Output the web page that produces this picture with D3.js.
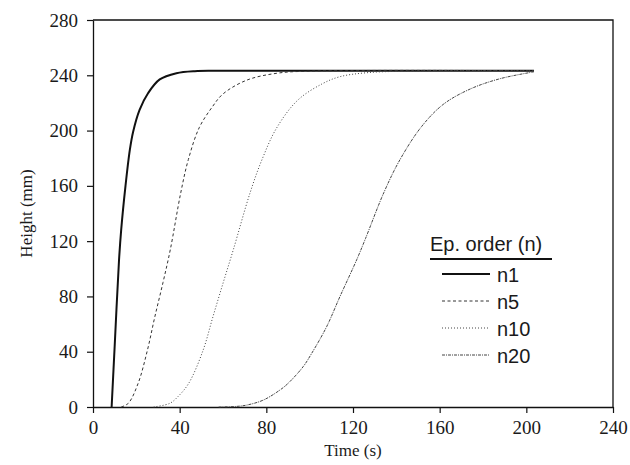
<!DOCTYPE html>
<html>
<head>
<meta charset="utf-8">
<script src="https://cdn.jsdelivr.net/npm/d3@7"></script>
<style>
  html, body { margin: 0; padding: 0; background: #fff; }
  svg { display: block; }
  svg .tick text { font-family: "Liberation Serif", "DejaVu Serif", serif !important; }
</style>
</head>
<body>
<svg id="chart" width="630" height="465"></svg>
<script>
// Height (mm) versus time (s) for different Ep. orders
const seriesNames = ["n1", "n5", "n10", "n20"];

const n1 = [[8.6,0],[10,44],[12,106],[13,128],[15,160],[17,186],[18.5,199],[21.5,215],
  [25.4,227],[30.8,237],[38.5,241.5],[47,243],[60,243.2],[203.5,243.3]];

const n5 = [[13,0],[16.3,2.7],[20.8,17],[25.1,41],[28.5,65],[32.3,90],[35.7,114],
  [40.5,155],[44,179],[49,202],[55,217],[60,226.5],[71,236.5],[85,241.5],[100,243],[203.5,243.3]];

const n10 = [[28,0],[35.5,2.7],[39.2,7.5],[44.2,17.2],[50.8,41],[55.3,65],[60.1,90],
  [64.8,114],[72.5,155],[78,179],[84.8,202],[94.5,222],[106,234],[114,239],
  [126,241.8],[145,243],[203.5,243.3]];

const n20 = [[58,0],[66,0.4],[71,1.4],[78.6,5],[86.3,12.3],[90.1,17.2],[97,29.2],
  [101,39],[107.8,58],[114,80],[121.7,106.5],[125.8,122],[134.2,155],[141.7,179],
  [151.7,203],[161.7,219],[174,230],[187.8,237.5],[203.5,242.5]];

const xTicks = [0, 40, 80, 120, 160, 200, 240];
const yTicks = [0, 40, 80, 120, 160, 200, 240, 280];

const xTitle = "Time (s)";
const yTitle = "Height (mm)";
const legendTitle = "Ep. order (n)";

const seriesData = [n1, n5, n10, n20];
const seriesStyle = [
  { width: 2.0, dash: null,      color: "#111" },
  { width: 1.0, dash: "3,2.5",   color: "#333" },
  { width: 1.0, dash: "1,2",     color: "#444" },
  { width: 1.0, dash: "3,1,1,1", color: "#444" }
];

const serif = "Liberation Serif";
const sans = "Liberation Sans";

const margin = { left: 93, top: 20, right: 17, bottom: 58 };
const W = 630, H = 465;
const svg = d3.select("#chart");

const x = d3.scaleLinear().domain([0, 240]).range([margin.left, W - margin.right]);
const y = d3.scaleLinear().domain([0, 280]).range([H - margin.bottom, margin.top]);

// plot frame (top and right edges)
svg.append("path")
  .attr("d", `M${x(0)},${y(280)}H${x(240)}V${y(0)}`)
  .attr("fill", "none").attr("stroke", "#111").attr("stroke-width", 1.3);

const xAxis = svg.append("g")
  .attr("transform", `translate(0,${y(0)})`)
  .call(d3.axisBottom(x).tickValues(xTicks).tickSize(6).tickPadding(8).tickSizeOuter(0));
const yAxis = svg.append("g")
  .attr("transform", `translate(${x(0)},0)`)
  .call(d3.axisLeft(y).tickValues(yTicks).tickSize(6).tickPadding(9).tickSizeOuter(0));
[xAxis, yAxis].forEach(g => {
  g.attr("font-family", serif).attr("font-size", 19);
  g.select(".domain").attr("stroke", "#111").attr("stroke-width", 1.3);
  g.selectAll(".tick line").attr("stroke", "#111").attr("stroke-width", 1.2);
  g.selectAll(".tick text")
    .attr("font-family", serif)
    .attr("font-size", 19)
    .attr("fill", "#1a1a1a");
});

svg.append("text")
  .attr("font-family", serif).attr("font-size", 17).attr("fill", "#1a1a1a")
  .attr("x", (x(0) + x(240)) / 2).attr("y", 456)
  .attr("text-anchor", "middle").text(xTitle);
svg.append("text")
  .attr("font-family", serif).attr("font-size", 17).attr("fill", "#1a1a1a")
  .attr("transform", `translate(32,${(y(0) + y(280)) / 2}) rotate(-90)`)
  .attr("text-anchor", "middle").text(yTitle);

const line = d3.line()
  .x(d => x(d[0])).y(d => y(d[1]))
  .curve(d3.curveCatmullRom.alpha(0.5));

seriesData.forEach((data, i) => {
  const s = seriesStyle[i];
  svg.append("path")
    .datum(data)
    .attr("d", line)
    .attr("fill", "none")
    .attr("stroke", s.color)
    .attr("stroke-width", s.width)
    .attr("stroke-dasharray", s.dash);
});

// legend
const lg = svg.append("g")
  .attr("font-family", sans).attr("font-size", 20).attr("fill", "#1a1a1a");
lg.append("text").attr("x", 430).attr("y", 251).text(legendTitle);
lg.append("line")
  .attr("x1", 430).attr("x2", 552).attr("y1", 259).attr("y2", 259)
  .attr("stroke", "#111").attr("stroke-width", 2);

seriesNames.forEach((name, i) => {
  const cy = 274 + i * 27;
  const s = seriesStyle[i];
  lg.append("line")
    .attr("x1", 442).attr("x2", 490).attr("y1", cy).attr("y2", cy)
    .attr("stroke", s.color)
    .attr("stroke-width", s.width)
    .attr("stroke-dasharray", s.dash);
  lg.append("text").attr("x", 497).attr("y", cy + 8).text(name);
});
</script>
</body>
</html>
